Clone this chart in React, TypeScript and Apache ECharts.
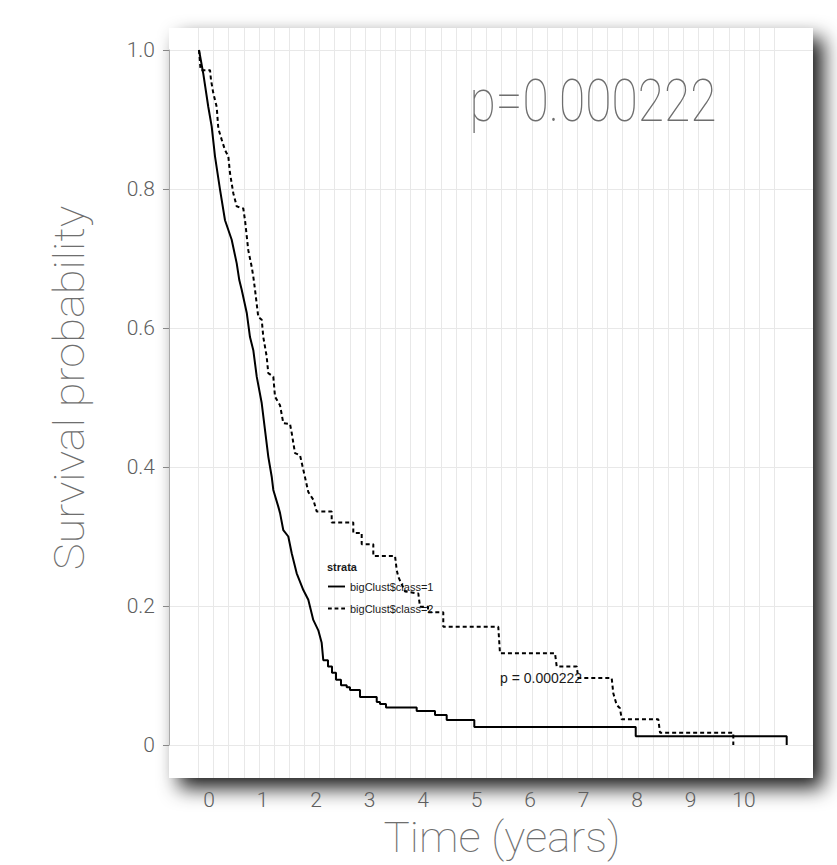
import React, { useEffect, useRef } from "react";
import * as echarts from "echarts";

// ---- data ----
const seriesNames = ["bigClust$class=1", "bigClust$class=2"];

// Kaplan-Meier curves traced as corner points (time in years, survival probability)
const class1Time = [0, 0.08, 0.174, 0.237, 0.299, 0.393, 0.486, 0.611, 0.705, 0.753, 0.798, 0.892, 0.953, 1.015, 1.079, 1.172, 1.234, 1.295, 1.359, 1.389, 1.482, 1.514, 1.576, 1.669, 1.733, 1.826, 1.95, 2.043, 2.136, 2.23, 2.293, 2.323, 2.411, 2.411, 2.486, 2.486, 2.561, 2.561, 2.654, 2.654, 2.761, 2.761, 2.822, 2.822, 3.009, 3.009, 3.322, 3.322, 3.383, 3.383, 3.495, 3.495, 4.069, 4.069, 4.411, 4.411, 4.63, 4.63, 5.146, 5.146, 8.163, 8.163, 10.985, 10.985];
const class1Surv = [1, 0.966, 0.918, 0.89, 0.847, 0.799, 0.755, 0.727, 0.693, 0.669, 0.655, 0.622, 0.587, 0.568, 0.53, 0.492, 0.453, 0.415, 0.386, 0.367, 0.343, 0.334, 0.309, 0.3, 0.276, 0.247, 0.223, 0.209, 0.18, 0.165, 0.147, 0.122, 0.122, 0.113, 0.113, 0.104, 0.104, 0.094, 0.094, 0.086, 0.086, 0.083, 0.083, 0.079, 0.079, 0.069, 0.069, 0.062, 0.062, 0.059, 0.059, 0.054, 0.054, 0.049, 0.049, 0.043, 0.043, 0.036, 0.036, 0.026, 0.026, 0.0125, 0.0125, 0];

const class2Time = [0, 0.03, 0.05, 0.206, 0.224, 0.267, 0.331, 0.361, 0.424, 0.486, 0.548, 0.579, 0.641, 0.705, 0.828, 0.86, 0.921, 0.985, 1.015, 1.047, 1.108, 1.172, 1.202, 1.265, 1.295, 1.389, 1.421, 1.514, 1.576, 1.701, 1.733, 1.794, 1.888, 1.95, 2.043, 2.136, 2.2, 2.48, 2.48, 2.884, 2.884, 3.041, 3.041, 3.258, 3.258, 3.664, 3.695, 3.725, 3.85, 4.099, 4.131, 4.28, 4.28, 4.566, 4.566, 5.594, 5.626, 6.654, 6.686, 7.06, 7.09, 7.714, 7.744, 7.807, 7.869, 7.901, 8.585, 8.617, 9.987, 9.987];
const class2Surv = [1, 0.971, 0.971, 0.971, 0.957, 0.938, 0.918, 0.887, 0.871, 0.856, 0.847, 0.823, 0.794, 0.775, 0.772, 0.755, 0.712, 0.688, 0.674, 0.655, 0.616, 0.612, 0.587, 0.559, 0.535, 0.53, 0.501, 0.489, 0.463, 0.462, 0.449, 0.42, 0.417, 0.396, 0.364, 0.353, 0.336, 0.336, 0.32, 0.32, 0.305, 0.305, 0.289, 0.289, 0.272, 0.272, 0.252, 0.242, 0.221, 0.218, 0.199, 0.199, 0.191, 0.191, 0.17, 0.17, 0.132, 0.132, 0.113, 0.113, 0.0964, 0.0964, 0.0744, 0.0576, 0.0528, 0.037, 0.037, 0.0177, 0.0177, 0];

const xTickMax = 10;
const yTicks = [0, 0.2, 0.4, 0.6, 0.8, 1.0];
const pValueBig = "p=0.000222";
const pValueSmall = "p = 0.000222";
const legendTitle = "strata";
const xTitle = "Time (years)";
const yTitle = "Survival probability";

const SANS = "Liberation Sans, Arial, sans-serif";
const THIN = "Roboto";

function fitScale(text: string, font: string, target: number) {
  const c = document.createElement("canvas").getContext("2d");
  if (!c) return 1;
  c.font = font;
  const w = c.measureText(text).width;
  return w > 0 ? target / w : 1;
}

export default function App() {
  const ref = useRef<HTMLDivElement>(null);
  useEffect(() => {
    if (!ref.current) return;
    const chart = echarts.init(ref.current, undefined, { renderer: "svg" });

    const pxPerYear = 53.5;
    const x0 = 199;
    const yTop = 50;
    const yBottom = 745;
    const panel = { x: 169, y: 28, w: 644, h: 750 };

    const pScale = fitScale(pValueBig, `100 60px ${THIN}`, 247);
    const yTitleScale = fitScale(yTitle, `100 42px ${THIN}`, 365);
    const xTitleScale = fitScale(xTitle, `100 42px ${THIN}`, 237);

    const d1 = class1Time.map((t, i) => [t, class1Surv[i]]);
    const d2 = class2Time.map((t, i) => [t, class2Surv[i]]);

    chart.setOption({
      animation: false,
      backgroundColor: "#ffffff",
      graphic: [
        {
          type: "rect",
          z: -10,
          shape: { x: panel.x, y: panel.y, width: panel.w, height: panel.h },
          style: {
            fill: "#ffffff",
            shadowBlur: 20,
            shadowColor: "rgba(0,0,0,0.9)",
            shadowOffsetX: 10,
            shadowOffsetY: 10,
          },
          silent: true,
        },
        {
          type: "text",
          z: 100,
          x: 593,
          y: 101,
          scaleX: pScale,
          style: {
            text: pValueBig,
            fill: "#6e6e6e",
            fontFamily: THIN,
            fontWeight: 100,
            fontSize: 60,
            align: "center",
            verticalAlign: "middle",
          },
        },
        {
          type: "text",
          z: 100,
          x: 70,
          y: 388,
          rotation: Math.PI / 2,
          scaleX: yTitleScale,
          style: {
            text: yTitle,
            fill: "#6e6e6e",
            fontFamily: THIN,
            fontWeight: 100,
            fontSize: 42,
            align: "center",
            verticalAlign: "middle",
          },
        },
        {
          type: "text",
          z: 100,
          x: 502,
          y: 838,
          scaleX: xTitleScale,
          style: {
            text: xTitle,
            fill: "#6e6e6e",
            fontFamily: THIN,
            fontWeight: 100,
            fontSize: 42,
            align: "center",
            verticalAlign: "middle",
          },
        },
        {
          type: "text",
          z: 100,
          x: 327,
          y: 567,
          style: {
            text: legendTitle,
            fill: "#1a1a1a",
            fontFamily: SANS,
            fontWeight: "bold",
            fontSize: 11,
            align: "left",
            verticalAlign: "middle",
          },
        },
        {
          type: "text",
          z: 100,
          x: 500,
          y: 678,
          style: {
            text: pValueSmall,
            fill: "#1a1a1a",
            fontFamily: SANS,
            fontSize: 14,
            align: "left",
            verticalAlign: "middle",
          },
        },
      ],
      legend: {
        data: [
          { name: seriesNames[0], icon: "path://M0,0h18v2h-18z" },
          { name: seriesNames[1], icon: "path://M0,0h4v2h-4z M7,0h4v2h-4z M14,0h4v2h-4z" },
        ],
        orient: "vertical",
        left: 328,
        top: 581,
        padding: 0,
        itemWidth: 17,
        itemHeight: 2,
        itemGap: 11,
        itemStyle: { color: "#000000" },
        textStyle: {
          fontFamily: SANS,
          fontSize: 11,
          color: "#1a1a1a",
        },
      },
      grid: [
        { left: x0, top: yTop, width: pxPerYear * 11, height: yBottom - yTop },
        { left: 198.3, top: panel.y, width: 576, height: panel.h },
        { left: panel.x, top: yTop, width: panel.w, height: yBottom - yTop },
      ],
      xAxis: [
        {
          gridIndex: 0,
          type: "value",
          min: 0,
          max: 11,
          interval: 1,
          axisLine: { show: false },
          axisTick: { show: false },
          splitLine: { show: false },
          axisLabel: {
            margin: 44,
            color: "#5e5e5e",
            fontFamily: THIN,
            fontWeight: 300,
            fontSize: 21,
            padding: [0, 0, 0, 20],
            formatter: (v: number) => (v <= xTickMax ? String(v) : ""),
          },
        },
        {
          gridIndex: 1,
          type: "value",
          min: 0,
          max: 38,
          interval: 1,
          axisLine: { show: false },
          axisTick: { show: false },
          axisLabel: { show: false },
          splitLine: { show: true, lineStyle: { color: "#e8e8e8", width: 1 } },
        },
        { gridIndex: 2, type: "value", min: 0, max: 1, show: false },
      ],
      yAxis: [
        { gridIndex: 0, type: "value", min: 0, max: 1, show: false },
        { gridIndex: 1, type: "value", min: 0, max: 1, show: false },
        {
          gridIndex: 2,
          type: "value",
          min: 0,
          max: 1,
          interval: 0.2,
          axisLine: { show: true, lineStyle: { color: "#aaaaaa", width: 1 } },
          axisTick: { show: true, length: 6, lineStyle: { color: "#888888" } },
          splitLine: { show: true, lineStyle: { color: "#e8e8e8", width: 1 } },
          axisLabel: {
            margin: 14,
            color: "#5e5e5e",
            fontFamily: THIN,
            fontWeight: 300,
            fontSize: 21,
            formatter: (v: number) =>
              yTicks.includes(+v.toFixed(1)) ? (v === 0 ? "0" : v.toFixed(1)) : "",
          },
        },
      ],
      series: [
        {
          name: seriesNames[0],
          type: "line",
          xAxisIndex: 0,
          yAxisIndex: 0,
          symbol: "none",
          showSymbol: false,
          data: d1,
          z: 5,
          lineStyle: { color: "#000000", width: 2, type: "solid" },
          itemStyle: { color: "#000000" },
        },
        {
          name: seriesNames[1],
          type: "line",
          xAxisIndex: 0,
          yAxisIndex: 0,
          symbol: "none",
          showSymbol: false,
          data: d2,
          z: 5,
          lineStyle: { color: "#000000", width: 2, type: [4, 3] },
          itemStyle: { color: "#000000" },
        },
      ],
    });
    return () => chart.dispose();
  }, []);

  return (
    <div
      ref={ref}
      style={{ position: "fixed", left: 0, top: 0, width: 837, height: 865, background: "#fff" }}
    />
  );
}
